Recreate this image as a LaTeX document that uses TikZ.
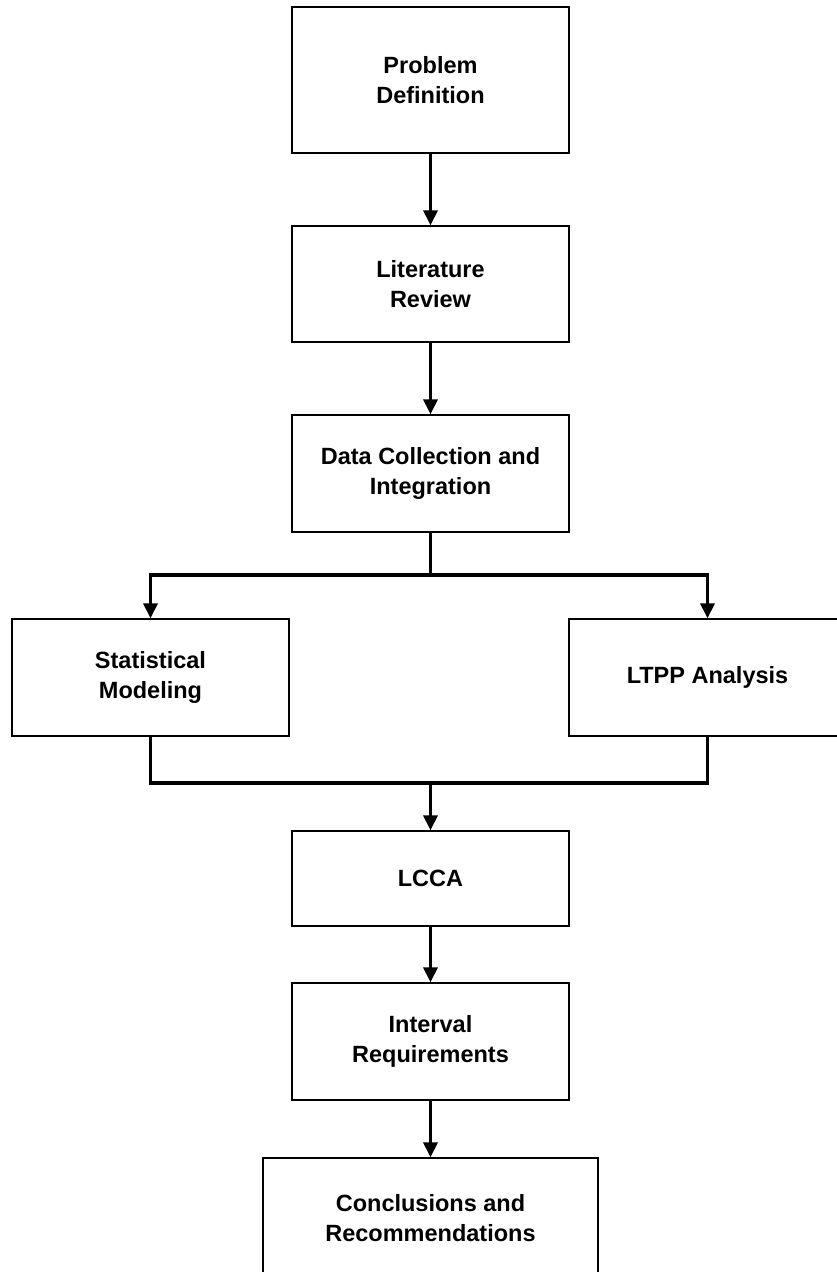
\documentclass[tikz,border=0pt]{standalone}
\usepackage{fontspec}
\setmainfont{Liberation Sans}
\usetikzlibrary{arrows.meta}
\begin{document}
\begin{tikzpicture}[x=1pt,y=-1pt,
  box/.style={draw=black, line width=1.3pt, rectangle, minimum width=277pt, inner sep=0pt,
    align=center, font=\bfseries\fontsize{23.5}{29.5}\selectfont},
  conn/.style={line width=3.3pt},
  arr/.style={conn, -{Triangle[length=15pt,width=14pt]}}]
\useasboundingbox (0,0) rectangle (837,1272);
\clip (0,0) rectangle (837,1272);
\node[box, minimum height=146pt] (b1) at (430.5,80) {Problem\\Definition};
\node[box, minimum height=116pt] (b2) at (430.5,284) {Literature\\Review};
\node[box, minimum height=117pt] (b3) at (430.5,473.5) {Data Collection and\\Integration};
\node[box, minimum height=117pt] (b4) at (150.5,677.5) {Statistical\\Modeling};
\node[box, minimum height=117pt] (b5) at (707.5,677.5) {LTPP Analysis};
\node[box, minimum height=95pt] (b6) at (430.5,878.5) {LCCA};
\node[box, minimum height=117pt] (b7) at (430.5,1041.5) {Interval\\Requirements};
\node[box, minimum height=120pt, minimum width=335pt] (b8) at (430.5,1218) {Conclusions and\\Recommendations};
\draw[arr] (b1.south) -- (b2.north);
\draw[arr] (b2.south) -- (b3.north);
\coordinate (split) at (430.5,575);
\draw[conn] (b3.south) -- (split);
\draw[arr] (split) -| (b4.north);
\draw[arr] (split) -| (b5.north);
\coordinate (merge) at (430.5,783);
\draw[conn] (b4.south) |- (merge);
\draw[conn] (b5.south) |- (merge);
\draw[arr] (merge) -- (b6.north);
\draw[arr] (b6.south) -- (b7.north);
\draw[arr] (b7.south) -- (b8.north);
\end{tikzpicture}
\end{document}
